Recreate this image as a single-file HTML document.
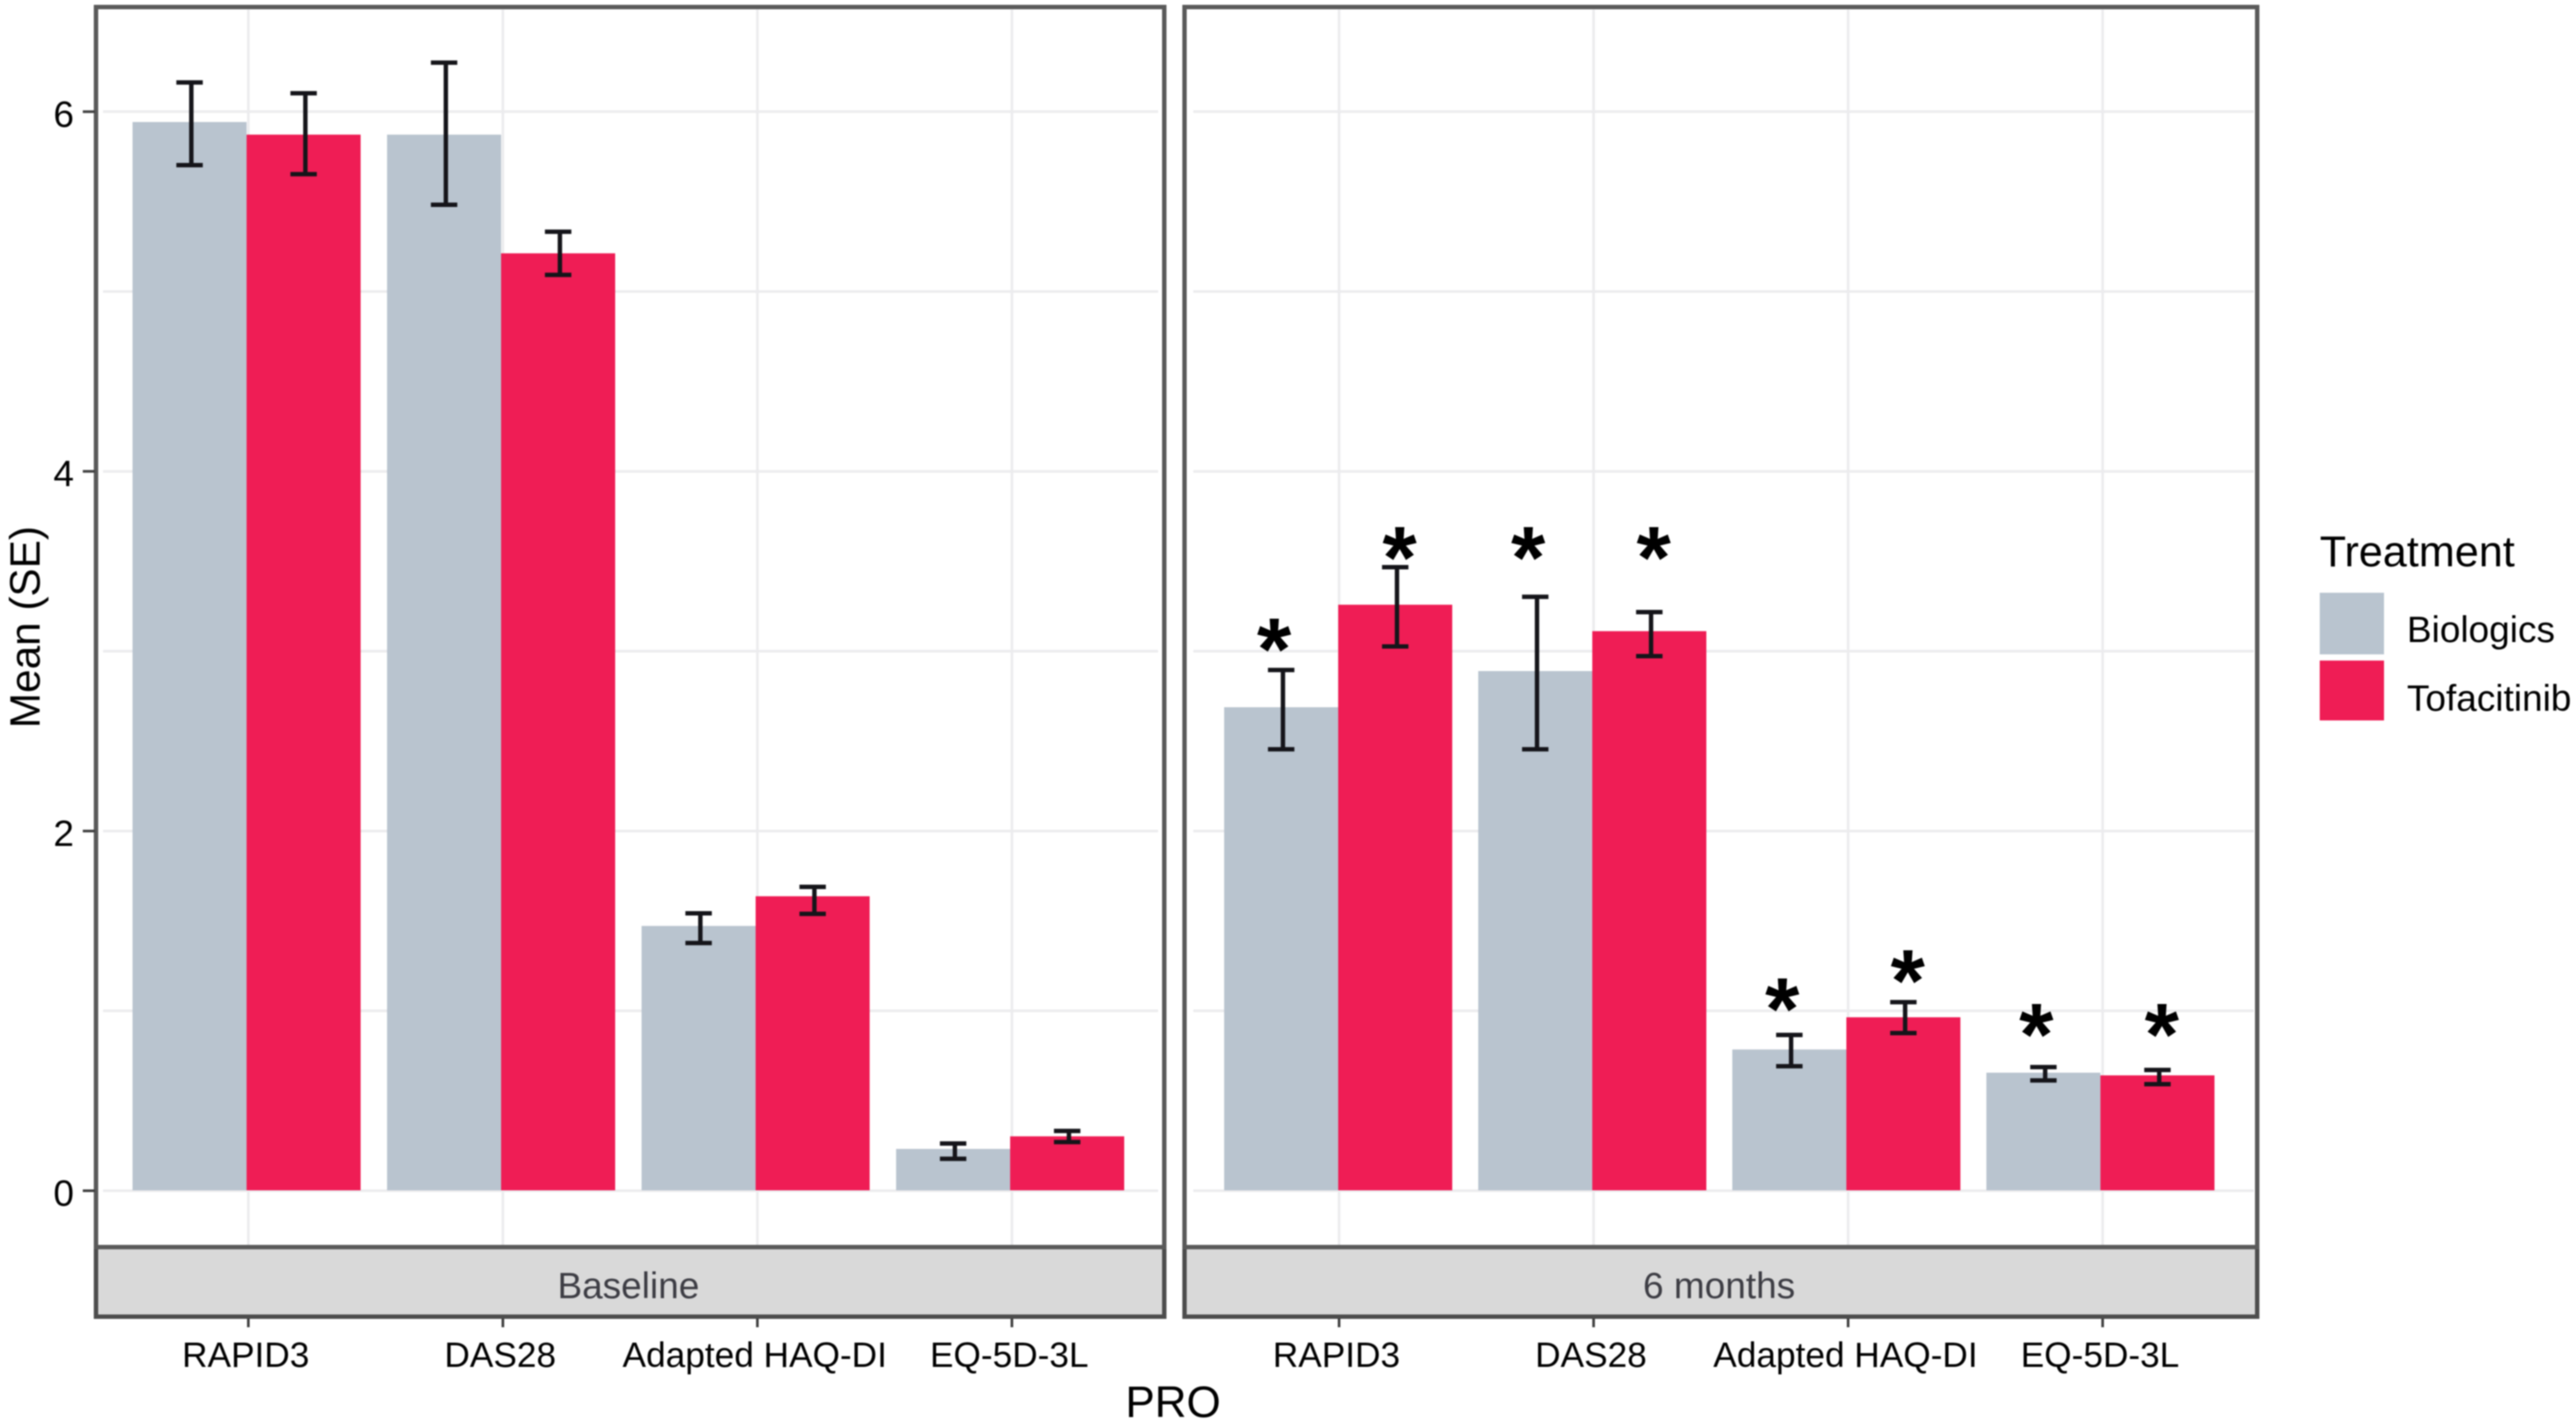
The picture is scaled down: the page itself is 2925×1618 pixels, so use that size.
<!DOCTYPE html>
<html lang="en">
<head>
<meta charset="utf-8">
<title>Mean (SE) of PRO by treatment</title>
<style>
html,body{margin:0;padding:0;background:#fff;}
body{width:2925px;height:1618px;overflow:hidden;}
svg{display:block;filter:blur(0.7px);}
text{font-family:"Liberation Sans",Arial,sans-serif;}
</style>
</head>
<body>
<svg id="chart" xmlns="http://www.w3.org/2000/svg" width="2925" height="1618" viewBox="0 0 2925 1618">
  <rect x="0" y="0" width="2925" height="1618" fill="#ffffff"/>
  <g id="layer-grid"></g>
  <g id="layer-bars"></g>
  <g id="layer-errors"></g>
  <g id="layer-stars"></g>
  <g id="layer-frame"></g>
  <g id="layer-axes"></g>

  <text x="1332" y="1609" font-size="50" text-anchor="middle" fill="#000">PRO</text>
  <text transform="translate(45,712) rotate(-90)" font-size="48" text-anchor="middle" fill="#000">Mean (SE)</text>

  <g>
    <text x="2634" y="643" font-size="49" fill="#000">Treatment</text>
    <rect x="2634" y="673" width="73" height="70" fill="#b9c4cf"/>
    <rect x="2634" y="750" width="73" height="68" fill="#ef1d55"/>
    <text x="2733" y="729" font-size="42" fill="#000">Biologics</text>
    <text x="2733" y="807" font-size="42" fill="#000">Tofacitinib</text>
  </g>
</svg>
<script>
// ---- Data (in data units) ----
const categories = ["RAPID3", "DAS28", "Adapted HAQ-DI", "EQ-5D-3L"];
const yTickValues = [0, 2, 4, 6];
const yMinorValues = [1, 3, 5];
const panelLabels = ["Baseline", "6 months"];

const baselineBiologics = [5.94, 5.87, 1.47, 0.23];
const baselineBiologicsLow = [5.70, 5.48, 1.375, 0.175];
const baselineBiologicsHigh = [6.16, 6.27, 1.54, 0.26];
const baselineTofacitinib = [5.87, 5.21, 1.635, 0.30];
const baselineTofacitinibLow = [5.65, 5.09, 1.537, 0.268];
const baselineTofacitinibHigh = [6.10, 5.33, 1.687, 0.33];

const sixMonthBiologics = [2.686, 2.887, 0.783, 0.654];
const sixMonthBiologicsLow = [2.452, 2.452, 0.69, 0.611];
const sixMonthBiologicsHigh = [2.893, 3.30, 0.864, 0.685];
const sixMonthTofacitinib = [3.256, 3.109, 0.962, 0.639];
const sixMonthTofacitinibLow = [3.024, 2.97, 0.874, 0.59];
const sixMonthTofacitinibHigh = [3.465, 3.215, 1.046, 0.669];

const sixMonthBiologicsStarLevel = [3.09, 3.60, 1.09, 0.947];
const sixMonthTofacitinibStarLevel = [3.60, 3.60, 1.246, 0.947];

// ---- Axis functions ----
const NS = "http://www.w3.org/2000/svg";
const GRAY = "#b9c4cf";
const RED = "#ef1d55";
const BAND = 289;
const BAR_W = 129.5;
const y0 = 1351.5;
const yUnit = 204.2;
function yScale(v) { return y0 - v * yUnit; }
function tickX(firstTick, i) { return firstTick + i * BAND; }
function barX(p, i) { return p.firstTick + p.barShift + i * p.barBand; }

const panelA = { left: 109, right: 1322, firstTick: 282, barShift: -2, barBand: 289, gridL: 117, gridR: 1315 };
const panelB = { left: 1345, right: 2563, firstTick: 1520.5, barShift: -1, barBand: 288.5, gridL: 1355, gridR: 2559 };
const PANEL_TOP = 8, PANEL_BOTTOM = 1416, STRIP_BOTTOM = 1495;

function make(tag, parent, attrs) {
  const el = document.createElementNS(NS, tag);
  for (const k in attrs) el.setAttribute(k, attrs[k]);
  parent.appendChild(el);
  return el;
}
const layerGrid = document.getElementById("layer-grid");
const layerBars = document.getElementById("layer-bars");
const layerErrors = document.getElementById("layer-errors");
const layerStars = document.getElementById("layer-stars");
const layerFrame = document.getElementById("layer-frame");
const layerAxes = document.getElementById("layer-axes");

function drawGrid(p) {
  yTickValues.concat(yMinorValues).forEach(function (v) {
    const l = make("line", layerGrid, { x1: p.gridL, x2: p.gridR, y1: yScale(v) + 0.5, y2: yScale(v) + 0.5, stroke: "#ececee", "stroke-width": 3 });
    
    
  });
  categories.forEach(function (c, i) {
    const x = tickX(p.firstTick, i);
    const l = make("line", layerGrid, { x1: x, x2: x, y1: PANEL_TOP + 3, y2: PANEL_BOTTOM, stroke: "#ececee", "stroke-width": 3 });
    
    
  });
}

function drawSeries(p, values, lows, highs, color, side, seriesName) {
  values.forEach(function (v, i) {
    const c = barX(p, i);
    const left = side < 0 ? c - BAR_W : c;
    const r = make("rect", layerBars, { x: left, y: yScale(v), width: BAR_W, height: y0 - yScale(v), fill: color });
    
    

    const mid = c + side * BAR_W / 2;
    const g = make("g", layerErrors, {});
    
    
    const stroke = "#15151a";
    make("line", g, { x1: mid + 2, x2: mid + 2, y1: yScale(highs[i]), y2: yScale(lows[i]), stroke: stroke, "stroke-width": 5 });
    make("line", g, { x1: mid - 15, x2: mid + 15, y1: yScale(highs[i]), y2: yScale(highs[i]), stroke: stroke, "stroke-width": 5 });
    make("line", g, { x1: mid - 15, x2: mid + 15, y1: yScale(lows[i]), y2: yScale(lows[i]), stroke: stroke, "stroke-width": 5 });
  });
}

function drawStars(p, levels, side, shift) {
  levels.forEach(function (lv, i) {
    const c = barX(p, i);
    const x = c + side * BAR_W / 2 + shift;
    const t = make("text", layerStars, { x: x, y: yScale(lv) + 51, "font-size": 100, "font-weight": "bold", "text-anchor": "middle", fill: "#000" });
    
    
    t.textContent = "*";
  });
}

function drawFrame(p, label) {
  const strip = make("rect", layerFrame, { x: p.left, y: PANEL_BOTTOM, width: p.right - p.left, height: STRIP_BOTTOM - PANEL_BOTTOM, fill: "#d9d9d9", stroke: "#4d4d4d", "stroke-width": 5 });
  
  
  const border = make("rect", layerFrame, { x: p.left, y: PANEL_TOP, width: p.right - p.left, height: PANEL_BOTTOM - PANEL_TOP, fill: "none", stroke: "#5a5a5a", "stroke-width": 5 });
  
  
  const t = make("text", layerFrame, { x: (p.left + p.right) / 2 - 2, y: 1474, "font-size": 42, "text-anchor": "middle", fill: "#3d3d44" });
  
  
  t.textContent = label;
}

function drawXAxis(p) {
  categories.forEach(function (c, i) {
    const x = tickX(p.firstTick, i);
    const tk = make("line", layerAxes, { x1: x, x2: x, y1: STRIP_BOTTOM + 2, y2: 1507, stroke: "#404040", "stroke-width": 3 });
    
    
    const t = make("text", layerAxes, { x: x - 3, y: 1552, "font-size": 40, "text-anchor": "middle", fill: "#000" });
    
    
    t.textContent = c;
  });
}

function drawYAxis() {
  yTickValues.forEach(function (v) {
    const y = yScale(v) + 0.5;
    const tk = make("line", layerAxes, { x1: 94, x2: 108, y1: y, y2: y, stroke: "#404040", "stroke-width": 3 });
    
    
    const t = make("text", layerAxes, { x: 84, y: y + 17, "font-size": 42, "text-anchor": "end", fill: "#000" });
    
    
    t.textContent = String(v);
  });
}

drawGrid(panelA);
drawGrid(panelB);
drawSeries(panelA, baselineBiologics, baselineBiologicsLow, baselineBiologicsHigh, GRAY, -1, "baseline-biologics");
drawSeries(panelA, baselineTofacitinib, baselineTofacitinibLow, baselineTofacitinibHigh, RED, 1, "baseline-tofacitinib");
drawSeries(panelB, sixMonthBiologics, sixMonthBiologicsLow, sixMonthBiologicsHigh, GRAY, -1, "six-months-biologics");
drawSeries(panelB, sixMonthTofacitinib, sixMonthTofacitinibLow, sixMonthTofacitinibHigh, RED, 1, "six-months-tofacitinib");
drawStars(panelB, sixMonthBiologicsStarLevel, -1, -8);
drawStars(panelB, sixMonthTofacitinibStarLevel, 1, 5);
drawFrame(panelA, panelLabels[0]);
drawFrame(panelB, panelLabels[1]);
drawXAxis(panelA);
drawXAxis(panelB);
drawYAxis();
</script>
</body>
</html>
